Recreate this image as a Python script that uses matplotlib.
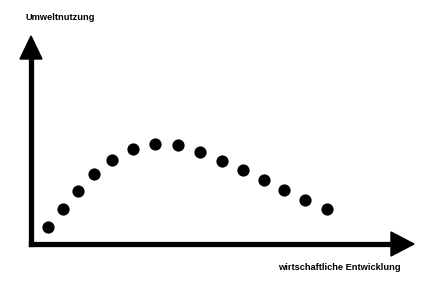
import numpy as np
import matplotlib
matplotlib.use("Agg")
import matplotlib.pyplot as plt
from matplotlib.patches import Polygon

# economic development (x) vs. environmental use (y), axis units 0..100
entwicklung = [4.5, 8.4, 12.3, 16.5, 21.2, 26.6, 32.3, 38.3, 44.1, 49.8, 55.4, 60.8, 66.1, 71.5, 77.3]
umweltnutzung = [8.3, 16.8, 25.5, 33.5, 40.4, 45.5, 48.1, 47.5, 44.2, 40.0, 35.6, 30.8, 25.8, 21.0, 16.7]

x_label = "wirtschaftliche Entwicklung"
y_label = "Umweltnutzung"

W, H = 430, 286
fig = plt.figure(figsize=(W / 100, H / 100), dpi=100)
ax = fig.add_axes([31 / W, 42 / H, 383 / W, 208 / H])
ax.set_xlim(0, 100)
ax.set_ylim(0, 100)
ax.axis("off")

ax.plot(entwicklung, umweltnutzung, "o", color="black", markersize=8.8,
        markeredgewidth=0, clip_on=False)

# axes with arrow heads
lw = 3.8
head_len_y = 23 / 208
head_hw_x = 11 / 383
head_len_x = 23 / 383
head_hw_y = 12 / 208
ax.plot([0, 0], [0, 1 - head_len_y], color="black", lw=lw,
        transform=ax.transAxes, solid_capstyle="projecting", clip_on=False)
ax.plot([0, 1 - head_len_x], [0, 0], color="black", lw=lw,
        transform=ax.transAxes, solid_capstyle="projecting", clip_on=False)
ax.add_patch(Polygon([(-head_hw_x, 1 - head_len_y), (head_hw_x, 1 - head_len_y), (0, 1)],
                     closed=True, color="black", transform=ax.transAxes, clip_on=False))
ax.add_patch(Polygon([(1 - head_len_x, -head_hw_y), (1 - head_len_x, head_hw_y), (1, 0)],
                     closed=True, color="black", transform=ax.transAxes, clip_on=False))

font = dict(family=["Liberation Sans", "DejaVu Sans"], fontweight="bold", fontsize=6.7, color="black")
fig.text(26 / W, 1 - 20 / H, y_label, ha="left", va="baseline", **font)
fig.text(278 / W, 1 - 270 / H, x_label, ha="left", va="baseline", **font)

fig.savefig("out.png", dpi=100, facecolor="white")
